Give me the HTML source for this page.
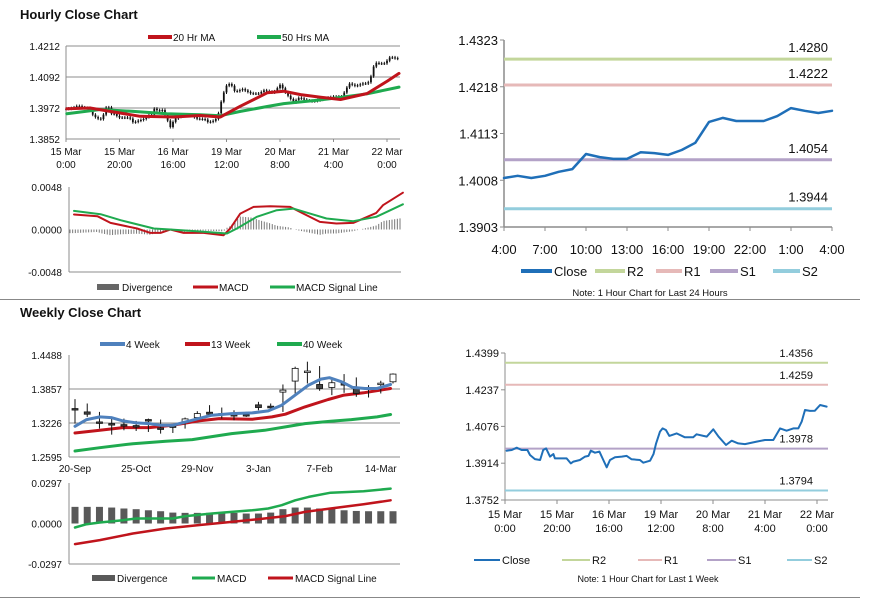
<!DOCTYPE html>
<html><head><meta charset="utf-8">
<style>
html,body{margin:0;padding:0;background:#fff;width:873px;height:601px;overflow:hidden}
svg{display:block;font-family:"Liberation Sans",Arial,sans-serif}
</style></head>
<body>
<svg id="s" width="873" height="601" viewBox="0 0 873 601">
<rect width="873" height="601" fill="#fff"/>
<text x="20" y="19" font-size="13" font-weight="bold" fill="#111">Hourly Close Chart</text>
<text x="20" y="317" font-size="13" font-weight="bold" fill="#111">Weekly Close Chart</text>
<line x1="0" y1="299.5" x2="860" y2="299.5" stroke="#888"/>
<line x1="0" y1="597.5" x2="860" y2="597.5" stroke="#888"/>
<g id="g"></g>
</svg>
<script>
// ===== Hourly (week of hourly closes), x = hours from 15 Mar 0:00 =====
const weekHours = [0.6,2.6,4.5,6.4,8.6,9.6,11.5,13.5,14.7,15.8,17.3,18.6,19.2,23.7,25.3,26.3,28.8,30.8,32.1,33,34.6,36.3,37.8,39.1,40.4,42.3,44.9,46.8,48.7,51.9,53.2,55.8,57.1,58.1,59.6,60.6,61.9,63.2,66,69.2,72.4,73.7,76.3,77.6,80.1,82.1,85,87.2,89.7,92.3,96.8,100,103.2,105.8,108.3,110.9,112.8,114.1,115.4,117.3,119.2,121.2,123.7];
const weekClose = [1.3969,1.3972,1.3982,1.3972,1.3972,1.3950,1.3932,1.3928,1.3972,1.3979,1.3943,1.3954,1.3935,1.3935,1.3913,1.3921,1.3928,1.3943,1.3946,1.3969,1.3960,1.3965,1.3928,1.3896,1.3928,1.3940,1.3943,1.3946,1.3931,1.3928,1.3916,1.3925,1.3954,1.4001,1.4053,1.4067,1.4060,1.4034,1.4045,1.4028,1.4028,1.4041,1.4034,1.4031,1.4063,1.4031,1.3994,1.4013,1.4001,1.3998,1.4009,1.4016,1.4016,1.4067,1.4057,1.4067,1.4067,1.4097,1.4148,1.4144,1.4145,1.4170,1.4163];
const ma20Hours = [0.3,9,16.5,27.7,40.2,50.2,57.7,65.2,75.2,81.4,87.7,95.2,102.6,112.6,120.1,124.5];
const ma20 = [1.3969,1.3972,1.3959,1.3940,1.3937,1.3943,1.3937,1.3979,1.4031,1.4037,1.4024,1.4014,1.4005,1.4028,1.4076,1.4106];
const ma50Hours = [0.3,12.8,25.2,37.7,50.2,57.7,65.2,75.2,81.4,93.9,100.1,112.6,124.5];
const ma50 = [1.3950,1.3966,1.3959,1.3950,1.3946,1.3942,1.3959,1.3978,1.3989,1.4002,1.4010,1.4027,1.4053];
const hMacdHours = [1.5,10.3,15.2,25.2,30.2,34,37.7,42.7,50.2,57.7,60.2,64,69,75.2,82.7,87.7,93.9,100.1,106.4,115.1,117.6,125.1];
const hMacd = [0.00169,0.0015,0.00075,0.00011,-0.00038,-0.00038,0,-0.00038,-0.00038,-0.00064,0.00011,0.0018,0.00255,0.00263,0.00255,0.0018,0.00086,0.00068,0.00075,0.00188,0.00274,0.00416];
const hSigHours = [1.5,11.5,19,31.5,37.7,50.2,59,62.7,70.2,77.7,83.9,90.2,96.4,106.4,115.1,125.1];
const hSig = [0.0021,0.00173,0.00105,0.00011,0,-0.00026,-0.00045,0.00011,0.00143,0.00218,0.00236,0.0018,0.00124,0.00094,0.00143,0.00285];
const hourlyXLabels = [["15 Mar","0:00"],["15 Mar","20:00"],["16 Mar","16:00"],["19 Mar","12:00"],["20 Mar","8:00"],["21 Mar","4:00"],["22 Mar","0:00"]];
const hourlyYTicks = [1.3852,1.3972,1.4092,1.4212];
// ===== Last 24 hours =====
const dayClose = [1.4013,1.4018,1.4013,1.4018,1.4027,1.4033,1.4067,1.4060,1.4056,1.4056,1.4071,1.4069,1.4065,1.4076,1.4092,1.4139,1.4148,1.4141,1.4141,1.4141,1.4152,1.4170,1.4164,1.4159,1.4164];
const dayXLabels = ["4:00","7:00","10:00","13:00","16:00","19:00","22:00","1:00","4:00"];
const dayYTicks = [1.3903,1.4008,1.4113,1.4218,1.4323];
const dayLevels = [1.4280,1.4222,1.4054,1.3944];
const weekLevels = [1.4356,1.4259,1.3978,1.3794];
const weekYTicks = [1.3752,1.3914,1.4076,1.4237,1.4399];
// ===== Weekly =====
const wkOpen  = [1.3494,1.3432,1.3246,1.3215,1.3196,1.3178,1.3290,1.3134,1.3172,1.3234,1.3327,1.3426,1.3401,1.3383,1.3383,1.3563,1.3538,1.3799,1.4004,1.4165,1.3941,1.3886,1.3960,1.3867,1.3886,1.3948,1.3991];
const wkClose = [1.3482,1.3389,1.3234,1.3203,1.3184,1.3172,1.3265,1.3122,1.3159,1.3302,1.3401,1.3389,1.3376,1.3370,1.3364,1.3513,1.3507,1.3836,1.4240,1.4190,1.3867,1.3973,1.3929,1.3774,1.3867,1.3966,1.4134];
const wkHigh  = [1.3668,1.3588,1.3432,1.3308,1.3308,1.3265,1.3308,1.3290,1.3203,1.3327,1.3445,1.3557,1.3513,1.3463,1.3432,1.3619,1.3588,1.3941,1.4271,1.4364,1.4283,1.4072,1.4134,1.4072,1.3929,1.4010,1.4146];
const wkLow   = [1.3215,1.3339,1.3122,1.3010,1.3091,1.3078,1.3060,1.3029,1.3041,1.3122,1.3277,1.3339,1.3308,1.3277,1.3339,1.3463,1.3463,1.3432,1.3774,1.3960,1.3824,1.3743,1.3786,1.3712,1.3699,1.3774,1.3960];
const ma4Weeks = [0,0.95,2.03,2.97,3.92,5,6.08,7.03,7.97,9.05,10.1,11.2,12.8,14.5,15.8,16.9,18,19.1,20.1,20.8,21.8,22.7,23.7,24.7,25.8];
const ma4 = [1.3165,1.3290,1.3339,1.3327,1.3265,1.3227,1.3215,1.3184,1.3184,1.3246,1.3308,1.3370,1.3401,1.3414,1.3451,1.3557,1.3743,1.3929,1.4041,1.4066,1.3991,1.3886,1.3867,1.3867,1.3941];
const ma13Weeks = [0,2.03,3.92,6.08,7.97,10.1,11.8,14.5,16.1,17.2,18.8,20.7,22,23.6,25.8];
const ma13 = [1.3041,1.3091,1.3140,1.3140,1.3184,1.3265,1.3308,1.3296,1.3339,1.3389,1.3525,1.3662,1.3743,1.3786,1.3867];
const ma40Weeks = [0,2.03,4.73,7.43,9.59,12.8,15.5,17.2,18.8,20.9,22.6,24.7,25.8];
const ma40 = [1.2706,1.2768,1.2842,1.2886,1.2917,1.3029,1.3091,1.3153,1.3215,1.3259,1.3290,1.3339,1.3383];
const wkDiv = [0.0122,0.0122,0.0122,0.0117,0.0110,0.0105,0.0097,0.0090,0.0080,0.0078,0.0078,0.0078,0.0078,0.0078,0.0073,0.0073,0.0080,0.0105,0.0117,0.0117,0.0110,0.0110,0.0097,0.0092,0.0090,0.0090,0.0090];
const wMacdWeeks = [0,0.95,2.03,3.92,5,6.08,7.97,9.05,11.2,12.8,14.5,15.8,16.9,18,19.1,20.9,22.3,23.6,25.8];
const wMacd = [-0.0029,-0.0005,0.0007,0.0024,0.0037,0.0037,0.0037,0.0054,0.0073,0.0085,0.0097,0.0110,0.0134,0.0170,0.0195,0.0226,0.0231,0.0236,0.0256];
const wSigWeeks = [0,2.03,4.73,7.43,10.1,12.8,15.5,17.2,18.8,20.9,23.6,25.8];
const wSig = [-0.0151,-0.0122,-0.0073,-0.0037,-0.0012,0.0012,0.0037,0.0054,0.0085,0.0110,0.0141,0.0170];
const weeklyXLabels = ["20-Sep","25-Oct","29-Nov","3-Jan","7-Feb","14-Mar"];
const weeklyYTicks = [1.2595,1.3226,1.3857,1.4488];

const NS="http://www.w3.org/2000/svg", G=document.getElementById('g');
function mk(tag,a,name){const e=document.createElementNS(NS,tag);for(const k in a)e.setAttribute(k,a[k]);
 
 
 G.appendChild(e);return e;}
function txt(x,y,s,size,anchor,name,fill){const t=mk('text',{x:x,y:y,'font-size':size,'text-anchor':anchor||'start',fill:fill||'#111'},name);t.textContent=s;return t;}
function lin(x1,y1,x2,y2,c,w,name){return mk('line',{x1:x1,y1:y1,x2:x2,y2:y2,stroke:c,'stroke-width':w||1},name);}
function scale(d0,d1,r0,r1){return v=>r0+(v-d0)/(d1-d0)*(r1-r0);}
function path(xsArr,vals,X,Y,c,w,name){let d='';for(let i=0;i<vals.length;i++)d+=(i?'L':'M')+X(xsArr[i]).toFixed(1)+','+Y(vals[i]).toFixed(1);
 return mk('path',{d:d,fill:'none',stroke:c,'stroke-width':w,'stroke-linejoin':'round','stroke-linecap':'round'},name);}
function interp(xs,vs,x){if(x<=xs[0])return vs[0];for(let i=1;i<xs.length;i++)if(x<=xs[i]){const t=(x-xs[i-1])/(xs[i]-xs[i-1]);return vs[i-1]+t*(vs[i]-vs[i-1]);}return vs[vs.length-1];}
const RED='#c0141c',GRN='#1faa4f',BLUE='#4f81bd';

// ---------- Hourly close chart (top-left) ----------
{const X=scale(0,120,66,387),Y=scale(1.3852,1.4212,139,46);
 hourlyYTicks.forEach((v,i)=>{if(i>0)lin(66,Y(v),400,Y(v),'#8c8c8c',1,'hourly-gridline');
  txt(60,Y(v)+4,v.toFixed(4),10,'end','hourly-y-tick');});
 lin(66,46,66,139,'#8c8c8c',1,'hourly-y-axis');lin(66,139,400,139,'#8c8c8c',1,'hourly-x-axis');
 hourlyXLabels.forEach((l,i)=>{const x=X(i*20);lin(x,139,x,142,'#8c8c8c',1,'hourly-x-tick');
  txt(x,155,l[0],10,'middle','hourly-x-label');txt(x,168,l[1],10,'middle','hourly-x-label');});
 let prev=interp(weekHours,weekClose,0);
 for(let h=0;h<=124;h++){const v=interp(weekHours,weekClose,h);const x=X(h);
  lin(x,Y(Math.max(v,prev)+0.0006),x,Y(Math.min(v,prev)-0.0006),'#111',1,'hourly-candle-wick');
  mk('rect',{x:x-0.9,y:Math.min(Y(v),Y(prev)),width:1.8,height:Math.max(1,Math.abs(Y(v)-Y(prev))),fill:'#111'},'hourly-candle-body');
  prev=v;}
 path(ma50Hours,ma50,X,Y,GRN,3,'ma50-line');path(ma20Hours,ma20,X,Y,RED,3,'ma20-line');
 lin(148,37,172,37,RED,4,'legend-ma20-swatch');txt(173,41,'20 Hr MA',10,'start','legend-ma20');
 lin(257,37,281,37,GRN,4,'legend-ma50-swatch');txt(282,41,'50 Hrs MA',10,'start','legend-ma50');
 // MACD panel
 const MY=scale(-0.0048,0.0048,272,187),MX=scale(0,124,70,400);
 [0.0048,0,-0.0048].forEach(v=>txt(62,MY(v)+4,v.toFixed(4),10,'end','hourly-macd-y-tick'));
 lin(69,187,69,272,'#8c8c8c',1,'hourly-macd-y-axis');lin(69,272,401,272,'#8c8c8c',1,'hourly-macd-x-axis');
 for(let h=0;h<=124;h++){const d=interp(hMacdHours,hMacd,h)-interp(hSigHours,hSig,h);
  lin(MX(h),MY(0),MX(h),MY(d),'#777',1,'hourly-divergence-bar');}
 path(hMacdHours,hMacd,MX,MY,RED,2,'hourly-macd-line');path(hSigHours,hSig,MX,MY,GRN,2,'hourly-signal-line');
 mk('rect',{x:97,y:284,width:22,height:6,fill:'#666'},'legend-divergence-swatch');txt(122,291,'Divergence',10,'start','legend-divergence');
 lin(193,287,218,287,RED,3,'legend-macd-swatch');txt(219,291,'MACD',10,'start','legend-macd');
 lin(270,287,295,287,GRN,3,'legend-signal-swatch');txt(296,291,'MACD Signal Line',10,'start','legend-signal');}

// ---------- Last 24 hours (top-right) ----------
{const X=scale(0,24,504,832),Y=scale(1.3903,1.4323,227,40);
 lin(504,40,504,227,'#8c8c8c',1.5,'day-y-axis');lin(504,227,832,227,'#8c8c8c',1.5,'day-x-axis');
 dayYTicks.forEach(v=>{lin(500,Y(v),504,Y(v),'#8c8c8c',1,'day-y-tick-mark');txt(498,Y(v)+5,v.toFixed(4),13,'end','day-y-tick');});
 dayXLabels.forEach((l,i)=>{const x=X(i*3);lin(x,227,x,231,'#8c8c8c',1,'day-x-tick');txt(x,254,l,13,'middle','day-x-label');});
 const cols=['#c3d69b','#e6b9b8','#b3a2c7','#93cddd'];
 dayLevels.forEach((v,i)=>{lin(504,Y(v),832,Y(v),cols[i],3,'day-level-line');txt(828,Y(v)-7,v.toFixed(4),13,'end','day-level-label');});
 path(dayClose.map((_,i)=>i),dayClose,X,Y,'#1f6fb8',2.5,'day-close-line');
 const leg=[['Close','#1f6fb8',521,552],['R2',cols[0],595,625],['R1',cols[1],656,682],['S1',cols[2],710,738],['S2',cols[3],773,800]];
 leg.forEach(l=>{lin(l[2],271,l[3],271,l[1],4,'day-legend-swatch');txt(l[3]+2,276,l[0],13,'start','day-legend-label');});
 txt(650,296,'Note: 1 Hour Chart for Last 24 Hours',9.5,'middle','day-note');}

// ---------- Last week hourly (bottom-right) ----------
{const X=scale(0,120,505,817),Y=scale(1.3752,1.4399,500,353);
 lin(505,353,505,500,'#8c8c8c',1,'week-y-axis');lin(505,500,828,500,'#8c8c8c',1,'week-x-axis');
 weekYTicks.forEach(v=>{lin(501,Y(v),505,Y(v),'#8c8c8c',1,'week-y-tick-mark');txt(499,Y(v)+4,v.toFixed(4),11,'end','week-y-tick');});
 hourlyXLabels.forEach((l,i)=>{const x=X(i*20);lin(x,500,x,504,'#8c8c8c',1,'week-x-tick');txt(x,518,l[0],11,'middle','week-x-label');txt(x,532,l[1],11,'middle','week-x-label');});
 const cols=['#c3d69b','#e6b9b8','#b3a2c7','#93cddd'];
 weekLevels.forEach((v,i)=>{lin(505,Y(v),828,Y(v),cols[i],2,'week-level-line');txt(813,Y(v)-6,v.toFixed(4),11,'end','week-level-label');});
 path(weekHours,weekClose,X,Y,'#1f6fb8',2,'week-close-line');
 const leg=[['Close','#1f6fb8',474,500],['R2',cols[0],562,590],['R1',cols[1],638,662],['S1',cols[2],707,736],['S2',cols[3],787,812]];
 leg.forEach(l=>{lin(l[2],560,l[3],560,l[1],2,'week-legend-swatch');txt(l[3]+2,564,l[0],11,'start','week-legend-label');});
 txt(648,582,'Note: 1 Hour Chart for Last 1 Week',9,'middle','week-note');}

// ---------- Weekly close chart (bottom-left) ----------
{const X=scale(0,26,75,393),Y=scale(1.2595,1.4488,457,355);
 weeklyYTicks.forEach((v,i)=>{if(i>0&&i<3)lin(69,Y(v),400,Y(v),'#8c8c8c',1,'weekly-gridline');txt(62,Y(v)+4,v.toFixed(4),10,'end','weekly-y-tick');});
 lin(69,355,69,457,'#8c8c8c',1,'weekly-y-axis');lin(69,457,400,457,'#8c8c8c',1,'weekly-x-axis');
 weeklyXLabels.forEach((l,i)=>txt(X(i*5),472,l,10,'middle','weekly-x-label'));
 path(ma40Weeks,ma40,X,Y,GRN,3,'ma40-line');path(ma13Weeks,ma13,X,Y,RED,3,'ma13-line');
 wkOpen.forEach((o,i)=>{const x=X(i),c=wkClose[i];
  lin(x,Y(wkHigh[i]),x,Y(wkLow[i]),'#111',1,'weekly-candle-wick');
  mk('rect',{x:x-3,y:Y(Math.max(o,c)),width:6,height:Math.max(1.5,Math.abs(Y(o)-Y(c))),fill:c<o?'#444':'#fff',stroke:'#111','stroke-width':0.8},'weekly-candle-body');});
 path(ma4Weeks,ma4,X,Y,BLUE,3,'ma4-line');
 lin(100,344,125,344,BLUE,4,'legend-ma4-swatch');txt(126,348,'4 Week',10,'start','legend-ma4');
 lin(185,344,210,344,RED,4,'legend-ma13-swatch');txt(211,348,'13 Week',10,'start','legend-ma13');
 lin(277,344,302,344,GRN,4,'legend-ma40-swatch');txt(303,348,'40 Week',10,'start','legend-ma40');
 const MY=scale(-0.0297,0.0297,564,483);
 [0.0297,0,-0.0297].forEach(v=>txt(62,MY(v)+4,v.toFixed(4),10,'end','weekly-macd-y-tick'));
 lin(69,483,69,564,'#8c8c8c',1,'weekly-macd-y-axis');lin(69,564,400,564,'#8c8c8c',1,'weekly-macd-x-axis');
 wkDiv.forEach((d,i)=>mk('rect',{x:X(i)-3.5,y:MY(d),width:7,height:MY(0)-MY(d),fill:'#595959'},'weekly-divergence-bar'));
 path(wMacdWeeks,wMacd,X,MY,GRN,2.5,'weekly-macd-line');path(wSigWeeks,wSig,X,MY,RED,2.5,'weekly-signal-line');
 mk('rect',{x:92,y:575,width:23,height:6,fill:'#595959'},'legend-w-divergence-swatch');txt(117,582,'Divergence',10,'start','legend-w-divergence');
 lin(192,578,215,578,GRN,3,'legend-w-macd-swatch');txt(217,582,'MACD',10,'start','legend-w-macd');
 lin(268,578,293,578,RED,3,'legend-w-signal-swatch');txt(295,582,'MACD Signal Line',10,'start','legend-w-signal');}
</script>
</body></html>
